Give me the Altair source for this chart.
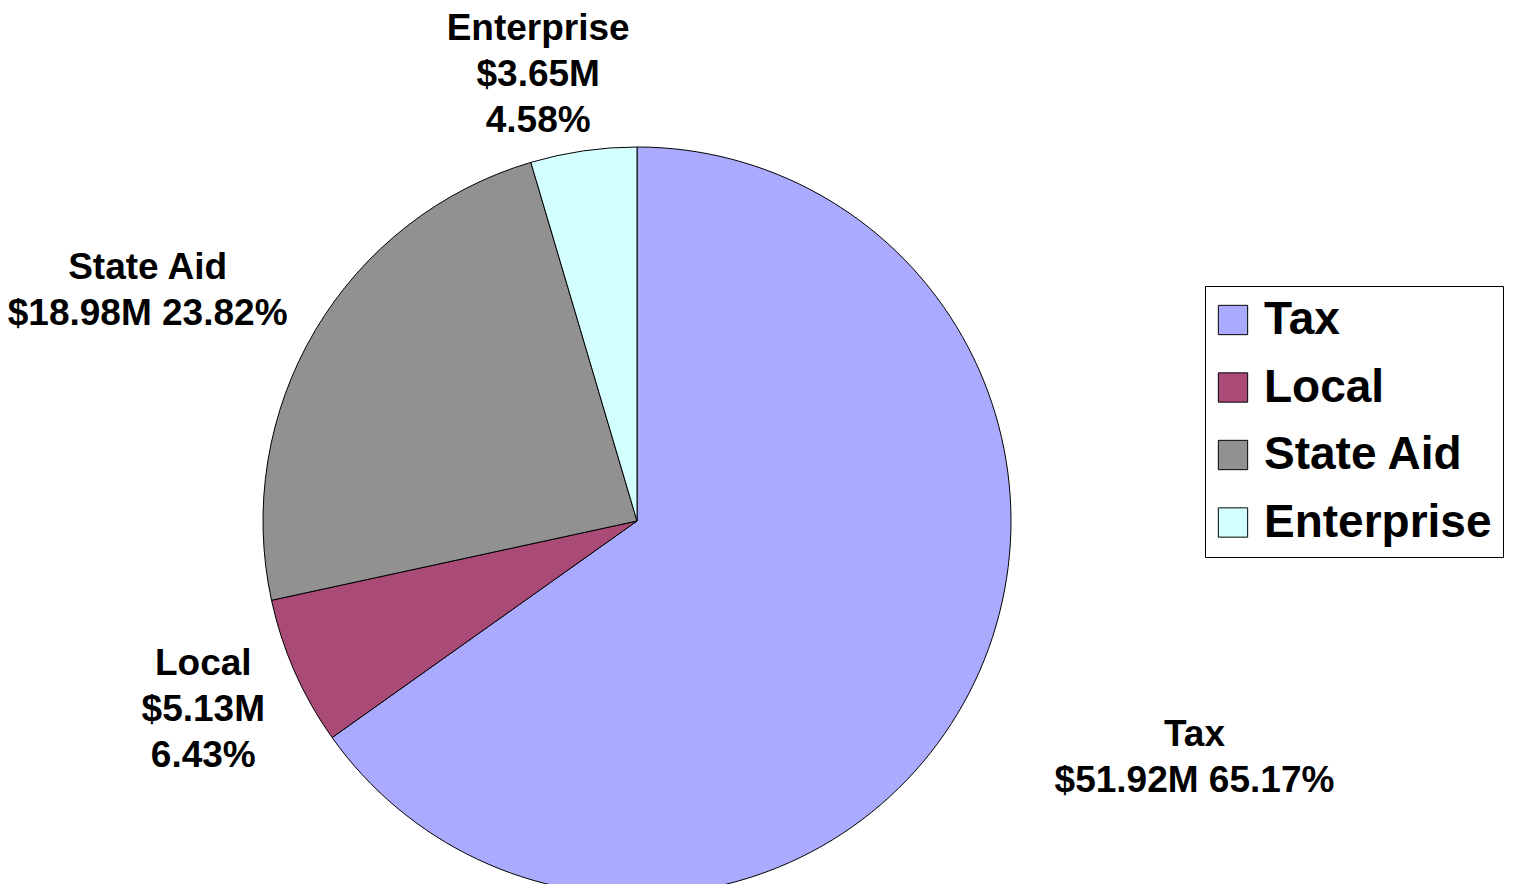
import altair as alt
import pandas as pd

categories = ["Tax", "Local", "State Aid", "Enterprise"]
amounts_m = [51.92, 5.13, 18.98, 3.65]
percents = [65.17, 6.43, 23.82, 4.58]
colors = ["#AAAAFF", "#AA4A77", "#919191", "#D4FFFF"]
# how each label is broken into lines (Excel style)
label_breaks = ["single", "multi", "single", "multi"]

rows = []
for i, c in enumerate(categories):
    amt = f"${amounts_m[i]:.2f}M"
    pct = f"{percents[i]:.2f}%"
    if label_breaks[i] == "single":
        lab = f"{c}\n{amt} {pct}"
    else:
        lab = f"{c}\n{amt}\n{pct}"
    rows.append({"cat": c, "order": i, "pct": percents[i], "label": lab})
df = pd.DataFrame(rows)

CX, CY, R = 629, 513, 374
FONT = "Liberation Sans"

color_scale = alt.Scale(domain=categories, range=colors)
theta_scale = alt.Scale(domain=[0, 100], range=[0, 6.283185307179586])

base = alt.Chart(df)

pie = base.mark_arc(stroke="black", strokeWidth=1, radius=R).encode(
    theta=alt.Theta("pct:Q", stack=True, scale=theta_scale),
    order=alt.Order("order:Q"),
    color=alt.Color(
        "cat:N",
        scale=color_scale,
        sort=categories,
        legend=alt.Legend(
            title=None,
            orient="none",
            legendX=1197,
            legendY=278,
            labelFont=FONT,
            labelFontWeight="bold",
            labelFontSize=46,
            labelColor="black",
            labelOffset=8,
            symbolOffset=-6,
            symbolType="square",
            symbolSize=860,
            symbolStrokeColor="black",
            symbolStrokeWidth=1,
            symbolOpacity=1,
            rowPadding=21.5,
            padding=11,
            strokeColor="black",
            fillColor="white",
            cornerRadius=0,
            labelLimit=400,
        ),
    ),
    x=alt.value(CX),
    y=alt.value(CY),
)

# label placement per slice: (radius, dx, dy)
label_place = {
    "Tax": (606, 19, -64),
    "Local": (473, -1, -48),
    "State Aid": (542, -23, 23),
    "Enterprise": (466, -32, -31),
}

layers = [pie]
for c in categories:
    r, dx, dy = label_place[c]
    t = (
        base.transform_window(
            cum="sum(pct)", sort=[alt.SortField("order")], frame=[None, 0]
        )
        .transform_calculate(mid="datum.cum - datum.pct / 2")
        .transform_filter(alt.datum.cat == c)
        .mark_text(
            radius=r,
            dx=dx,
            dy=dy,
            font=FONT,
            fontWeight="bold",
            fontSize=37,
            lineBreak="\n",
            lineHeight=46,
            align="center",
            baseline="middle",
            color="black",
        )
        .encode(
            theta=alt.Theta("mid:Q", stack=False, scale=theta_scale),
            text="label:N",
            x=alt.value(CX),
            y=alt.value(CY),
        )
    )
    layers.append(t)

chart = (
    alt.layer(*layers)
    .properties(width=1497, height=876, padding=0, autosize=alt.AutoSizeParams(type="none"))
    .configure_view(stroke=None)
)

chart.save("out.html", embed_options={"renderer": "svg", "actions": False})
